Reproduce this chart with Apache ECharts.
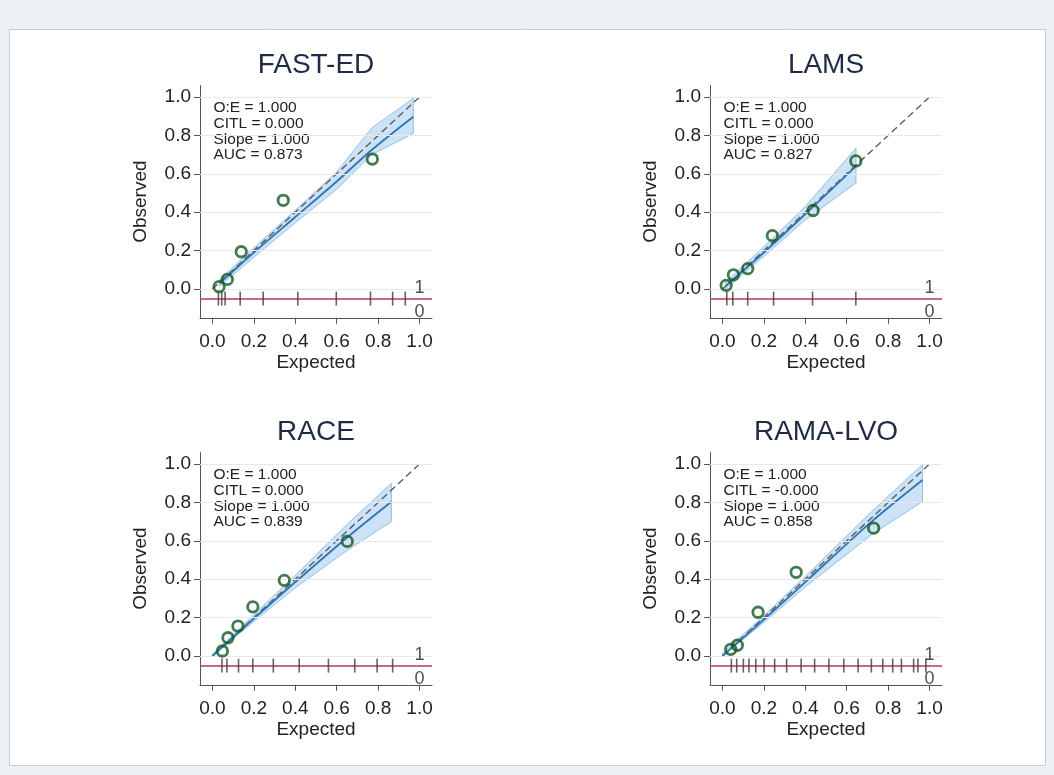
<!DOCTYPE html>
<html>
<head>
<meta charset="utf-8">
<script src="https://cdn.jsdelivr.net/npm/echarts@6/dist/echarts.min.js"></script>
<style>
    html, body { margin: 0; padding: 0; background: #eef1f4; }
    #main { width: 1054px; height: 775px; }
</style>
</head>
<body>
<div id="main"></div>
<script>
// 四个评分的标题和统计量
const names = ['FAST-ED', 'LAMS', 'RACE', 'RAMA-LVO']
const stats = [
    ['O:E = 1.000', 'CITL = 0.000', 'Slope = 1.000', 'AUC = 0.873'],
    ['O:E = 1.000', 'CITL = 0.000', 'Slope = 1.000', 'AUC = 0.827'],
    ['O:E = 1.000', 'CITL = 0.000', 'Slope = 1.000', 'AUC = 0.839'],
    ['O:E = 1.000', 'CITL = -0.000', 'Slope = 1.000', 'AUC = 0.858']
]
const tickValues = [0, 0.2, 0.4, 0.6, 0.8, 1.0]

// FAST-ED
const fastPtX = [0.032, 0.072, 0.139, 0.342, 0.772]
const fastPtY = [0.012, 0.050, 0.194, 0.462, 0.677]
const fastFitX = [0.035, 0.2, 0.4, 0.6, 0.77, 0.97]
const fastFitY = [0.03, 0.19, 0.375, 0.56, 0.725, 0.897]
const fastLo = [0.015, 0.165, 0.345, 0.52, 0.70, 0.81]
const fastHi = [0.05, 0.215, 0.41, 0.61, 0.84, 0.993]
const fastRug = [0.029, 0.045, 0.061, 0.134, 0.245, 0.412, 0.598, 0.763, 0.870, 0.931]

// LAMS
const lamsPtX = [0.018, 0.053, 0.122, 0.241, 0.438, 0.644]
const lamsPtY = [0.019, 0.074, 0.106, 0.278, 0.409, 0.667]
const lamsFitX = [0.015, 0.2, 0.4, 0.645]
const lamsFitY = [0.015, 0.19, 0.39, 0.64]
const lamsLo = [0.0, 0.17, 0.36, 0.552]
const lamsHi = [0.035, 0.22, 0.43, 0.734]
const lamsRug = [0.021, 0.050, 0.122, 0.247, 0.435, 0.644]

// RACE
const racePtX = [0.048, 0.075, 0.123, 0.195, 0.347, 0.651]
const racePtY = [0.026, 0.095, 0.156, 0.256, 0.394, 0.597]
const raceFitX = [0.0, 0.2, 0.4, 0.656, 0.864]
const raceFitY = [0.0, 0.195, 0.385, 0.623, 0.804]
const raceLo = [0.0, 0.18, 0.355, 0.554, 0.70]
const raceHi = [0.01, 0.215, 0.42, 0.692, 0.90]
const raceRug = [0.046, 0.070, 0.126, 0.195, 0.294, 0.419, 0.560, 0.687, 0.795, 0.870]

// RAMA-LVO
const ramaPtX = [0.040, 0.072, 0.172, 0.356, 0.730]
const ramaPtY = [0.035, 0.056, 0.228, 0.436, 0.666]
const ramaFitX = [0.0, 0.2, 0.4, 0.72, 0.966]
const ramaFitY = [0.0, 0.19, 0.385, 0.70, 0.917]
const ramaLo = [0.0, 0.175, 0.36, 0.632, 0.804]
const ramaHi = [0.015, 0.21, 0.415, 0.752, 0.998]
const ramaRug = [0.043, 0.069, 0.101, 0.128, 0.161, 0.201, 0.252, 0.310, 0.380, 0.445, 0.514,
    0.586, 0.655, 0.719, 0.774, 0.822, 0.864, 0.923, 0.944, 0.982]

const panels = [
    { ptX: fastPtX, ptY: fastPtY, fitX: fastFitX, fitY: fastFitY, lo: fastLo, hi: fastHi, rug: fastRug },
    { ptX: lamsPtX, ptY: lamsPtY, fitX: lamsFitX, fitY: lamsFitY, lo: lamsLo, hi: lamsHi, rug: lamsRug },
    { ptX: racePtX, ptY: racePtY, fitX: raceFitX, fitY: raceFitY, lo: raceLo, hi: raceHi, rug: raceRug },
    { ptX: ramaPtX, ptY: ramaPtY, fitX: ramaFitX, fitY: ramaFitY, lo: ramaLo, hi: ramaHi, rug: ramaRug }
]

// 版面
const gridLeft = [200, 710]
const gridTop = [85.5, 452.5]
const gridW = 232
const gridH = 232.3
const font = '"Liberation Sans", Arial, sans-serif'

let grids = []
let xAxes = []
let yAxes = []
let series = []
let graphics = [
    {
        type: 'rect',
        z: -10,
        shape: { x: 9.5, y: 29.5, width: 1036, height: 736 },
        style: { fill: '#fff', stroke: '#c9cdd2', lineWidth: 1 }
    }
]

panels.forEach((p, i) => {
    let left = gridLeft[i % 2]
    let top = gridTop[Math.floor(i / 2)]
    grids.push({ left: left, top: top, width: gridW, height: gridH })

    xAxes.push({
        gridIndex: i,
        type: 'value',
        min: -0.06,
        max: 1.06,
        name: 'Expected',
        nameLocation: 'middle',
        nameGap: 35,
        nameTextStyle: { fontFamily: font, fontSize: 19, color: '#222' },
        axisLine: { onZero: false, lineStyle: { color: '#555', width: 1 } },
        axisTick: { show: true, length: 6, customValues: tickValues, lineStyle: { color: '#555' } },
        axisLabel: {
            customValues: tickValues,
            margin: 14,
            fontFamily: font,
            fontSize: 19,
            color: '#222',
            formatter: v => v.toFixed(1)
        },
        splitLine: { show: false }
    })
    yAxes.push({
        gridIndex: i,
        type: 'value',
        min: -0.15,
        max: 1.06,
        name: 'Observed',
        nameLocation: 'middle',
        nameGap: 50,
        nameTextStyle: { fontFamily: font, fontSize: 19, color: '#222' },
        axisLine: { show: true, onZero: false, lineStyle: { color: '#555', width: 1 } },
        axisTick: { show: true, length: 6, customValues: tickValues, lineStyle: { color: '#555' } },
        axisLabel: {
            customValues: tickValues,
            margin: 9,
            fontFamily: font,
            fontSize: 19,
            color: '#222',
            formatter: v => v.toFixed(1)
        },
        splitLine: { show: false }
    })

    // 置信带：用多边形画在坐标系里
    series.push({
        type: 'custom',
        xAxisIndex: i,
        yAxisIndex: i,
        data: p.fitX.map((x, k) => [x, p.lo[k], p.hi[k]]),
        encode: { x: 0, y: [1, 2] },
        renderItem: (params, api) => {
            if (params.dataIndex !== 0) return
            let lower = p.fitX.map((x, k) => api.coord([x, p.lo[k]]))
            let upper = p.fitX.map((x, k) => api.coord([x, p.hi[k]])).reverse()
            return {
                type: 'polygon',
                shape: { points: lower.concat(upper) },
                style: { fill: 'rgba(125,182,235,0.4)', stroke: 'rgba(100,160,220,0.6)', lineWidth: 1 }
            }
        },
        markLine: {
            silent: true,
            symbol: 'none',
            label: { show: false },
            lineStyle: { color: '#e9e9e9', width: 1, type: 'solid' },
            data: tickValues.map(v => ({ yAxis: v }))
        },
        z: 1
    })
    // 参考线
    series.push({
        type: 'line',
        xAxisIndex: i,
        yAxisIndex: i,
        data: [[0, 0], [1, 1]],
        symbol: 'none',
        lineStyle: { color: '#5e5e5e', width: 1.4, type: [7, 4] },
        z: 3
    })
    // 校准曲线
    series.push({
        type: 'line',
        xAxisIndex: i,
        yAxisIndex: i,
        data: p.fitX.map((x, k) => [x, p.fitY[k]]),
        symbol: 'none',
        smooth: 0.3,
        lineStyle: { color: '#3277b3', width: 1.9 },
        z: 4
    })
    // 分组观测点
    series.push({
        type: 'scatter',
        xAxisIndex: i,
        yAxisIndex: i,
        data: p.ptX.map((x, k) => [x, p.ptY[k]]),
        symbol: 'circle',
        symbolSize: 10.5,
        itemStyle: { color: 'rgba(255,255,255,0)', borderColor: '#125a22', borderWidth: 2.8 },
        z: 6
    })
    // 地毯图
    series.push({
        type: 'scatter',
        xAxisIndex: i,
        yAxisIndex: i,
        data: p.rug.map(x => [x, -0.05]),
        symbol: 'rect',
        symbolSize: [1.6, 14],
        itemStyle: { color: '#423a3e' },
        markLine: {
            silent: true,
            symbol: 'none',
            label: { show: false },
            lineStyle: { color: '#b23a57', width: 1.6, type: 'solid' },
            data: [{ yAxis: -0.05 }]
        },
        z: 5
    })
    series.push({
        type: 'scatter',
        xAxisIndex: i,
        yAxisIndex: i,
        data: [[1.0, 0.005, '1'], [1.0, -0.118, '0']],
        symbolSize: 0,
        label: {
            show: true,
            position: 'inside',
            formatter: d => d.value[2],
            fontFamily: font,
            fontSize: 18,
            color: '#222'
        },
        z: 6
    })

    graphics.push({
        type: 'text',
        x: left + gridW / 2,
        y: top - 19.8,
        style: {
            text: names[i],
            font: '28px ' + font,
            fill: '#1f2b45',
            textAlign: 'center',
            textVerticalAlign: 'middle'
        }
    })
    graphics.push({
        type: 'text',
        x: left + 13.5,
        y: top + 14.5,
        style: {
            text: stats[i].join('\n'),
            font: '15.5px ' + font,
            lineHeight: 15.7,
            fill: '#222',
            textAlign: 'left',
            textVerticalAlign: 'top'
        }
    })
})

let chart = echarts.init(document.getElementById('main'))
chart.setOption({
    animation: false,
    backgroundColor: '#eef1f4',
    grid: grids,
    xAxis: xAxes,
    yAxis: yAxes,
    series: series,
    graphic: graphics
})
</script>
</body>
</html>
